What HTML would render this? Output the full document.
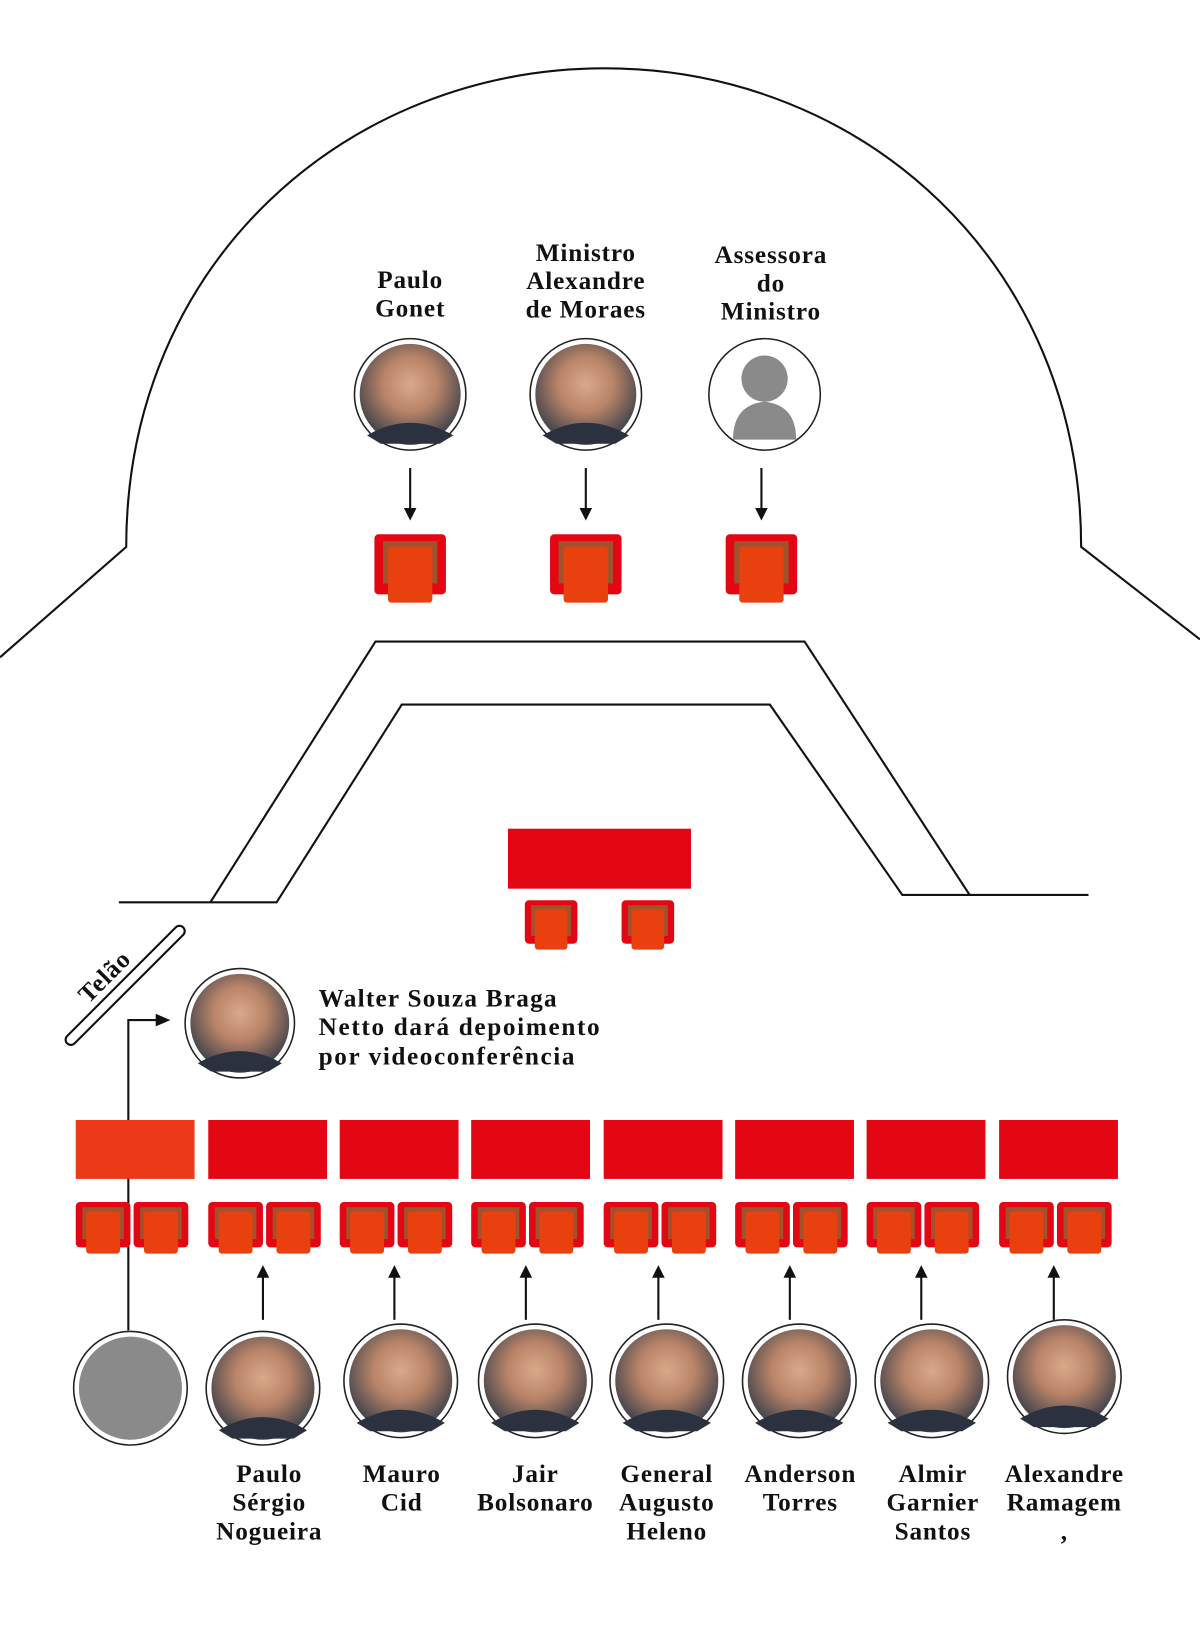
<!DOCTYPE html>
<html><head><meta charset="utf-8"><style>
html,body{margin:0;padding:0;background:#fff;}
svg{display:block;}
text{font-family:"Liberation Serif",serif;font-weight:bold;fill:#111;font-size:24px;letter-spacing:0.8px;text-anchor:middle;}
</style></head><body>
<svg id="s" width="1200" height="1649" viewBox="0 0 1141 1568" xmlns="http://www.w3.org/2000/svg">
<defs>
<radialGradient id="face" cx="50%" cy="40%" r="60%"><stop offset="0" stop-color="#d9a98a"/><stop offset="0.45" stop-color="#b98468"/><stop offset="1" stop-color="#3a3f4a"/></radialGradient>
</defs>
<path d="M0,625 L120,520 C120,250 330,65 575,65 C820,65 1028,250 1028,520 L1141,608" fill="none" stroke="#111" stroke-width="2"/>
<path d="M113,858 L263,858 L382,670 L732,670 L858,851 L1035,851" fill="none" stroke="#111" stroke-width="2"/>
<path d="M200,858 L357,610 L765,610 L922,851" fill="none" stroke="#111" stroke-width="2"/>
<text x="390" y="274">Paulo</text><text x="390" y="301">Gonet</text>
<text x="557" y="248">Ministro</text><text x="557" y="275">Alexandre</text><text x="557" y="302">de Moraes</text>
<text x="733" y="250">Assessora</text><text x="733" y="277">do</text><text x="733" y="304">Ministro</text>
<rect x="483" y="788" width="174" height="57" fill="#e30613"/>
<g transform="translate(119,937) rotate(-45)"><rect x="-78" y="-5" width="156" height="10" rx="5" fill="#fff" stroke="#111" stroke-width="2"/><text x="-8" y="-12" font-size="21" text-anchor="middle">Telão</text></g>
<text x="303" y="957" style="text-anchor:start" textLength="227">Walter Souza Braga</text>
<text x="303" y="984" style="text-anchor:start" textLength="268">Netto dará depoimento</text>
<text x="303" y="1012" style="text-anchor:start" textLength="244">por videoconferência</text>
<path d="M122,1265 L122,970 L150,970" fill="none" stroke="#111" stroke-width="2"/>
<path d="M148,964 L162,970 L148,976 z" fill="#111"/>
<g id="dyn"></g>
</svg>
<script>
var NS="http://www.w3.org/2000/svg",g=document.getElementById("dyn");
function el(t,a){var e=document.createElementNS(NS,t);for(var k in a)e.setAttribute(k,a[k]);g.appendChild(e);return e;}
function chair(x,y,w,h){
 el("rect",{x:x,y:y,width:w,height:h*0.88,rx:4,fill:"#e30613"});
 el("rect",{x:x+w*0.12,y:y+h*0.1,width:w*0.76,height:h*0.62,fill:"#a0522d"});
 el("rect",{x:x+w*0.19,y:y+h*0.18,width:w*0.62,height:h*0.82,rx:3,fill:"#e8400f"});
}
function photo(cx,cy,r,gray){
 el("circle",{cx:cx,cy:cy,r:r,fill:"#fff",stroke:"#222","stroke-width":1.5});
 el("circle",{cx:cx,cy:cy,r:r-5,fill:gray?"#8a8a8a":"url(#face)"});
 if(!gray){el("path",{d:"M"+(cx-r+12)+","+(cy+r-14)+" Q"+cx+","+(cy+15)+" "+(cx+r-12)+","+(cy+r-14)+" L"+(cx+r-25)+","+(cy+r-6)+" L"+(cx-r+25)+","+(cy+r-6)+" z",fill:"#2c3140"});}
}
function arrowDown(x,y1,y2){el("line",{x1:x,y1:y1,x2:x,y2:y2-10,stroke:"#111","stroke-width":2});el("path",{d:"M"+(x-6)+","+(y2-12)+" L"+(x+6)+","+(y2-12)+" L"+x+","+y2+" z",fill:"#111"});}
function arrowUp(x,y1,y2){el("line",{x1:x,y1:y1,x2:x,y2:y2+10,stroke:"#111","stroke-width":2});el("path",{d:"M"+(x-6)+","+(y2+12)+" L"+(x+6)+","+(y2+12)+" L"+x+","+y2+" z",fill:"#111"});}
function txt(x,y,s){var t=el("text",{x:x,y:y});t.textContent=s;}
[390,557,724].forEach(function(x,i){
 if(i==2){el("circle",{cx:727,cy:375,r:53,fill:"#fff",stroke:"#222","stroke-width":1.5});
  el("circle",{cx:727,cy:360,r:22,fill:"#8a8a8a"});el("path",{d:"M697,418 Q697,385 727,382 Q757,385 757,418 z",fill:"#8a8a8a"});}
 else photo(x,375,53);
 arrowDown(x,445,495);
 chair(x-34,508,68,65);
});
chair(499,856,50,47);chair(591,856,50,47);
photo(228,973,52);
var dx=[72,198,323,448,574,699,824,950];
var cx=[124,250,381,509,634,760,886,1012],cy=[1320,1320,1313,1313,1313,1313,1313,1309];
dx.forEach(function(d,i){
 el("rect",{x:d,y:1065,width:113,height:56,fill:i==0?"#ea3a17":"#e30613"});
 chair(d,1143,52,49);chair(d+55,1143,52,49);
 photo(cx[i],cy[i],54,i==0);
 if(i>0)arrowUp(d+52,1255,1203);
});
var L=[[],["Paulo","Sérgio","Nogueira"],["Mauro","Cid"],["Jair","Bolsonaro"],["General","Augusto","Heleno"],["Anderson","Torres"],["Almir","Garnier","Santos"],["Alexandre","Ramagem",","]];
var lx=[0,256,382,509,634,761,887,1012];
L.forEach(function(a,i){a.forEach(function(s,j){txt(lx[i],1409+j*27.5,s);});});
</script>
</body></html>
